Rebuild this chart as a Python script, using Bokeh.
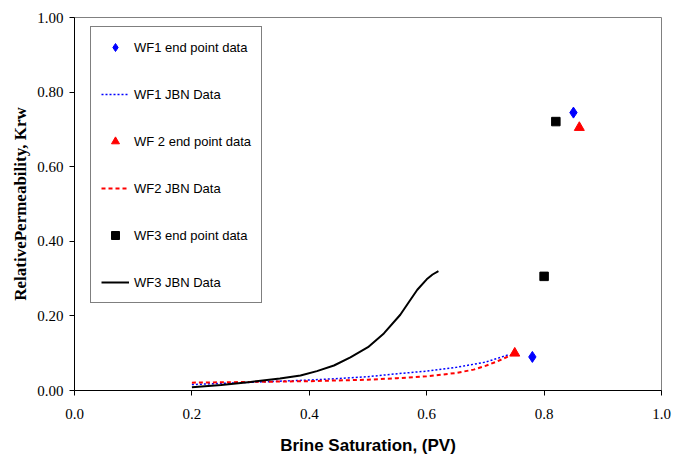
from bokeh.plotting import figure
from bokeh.models import Legend, LegendItem, FixedTicker, NumeralTickFormatter, Range1d
from bokeh.embed import file_html
from bokeh.resources import INLINE

# ---- data ----
wf1_end_sw = [0.85, 0.78]
wf1_end_kr = [0.745, 0.090]
wf2_end_sw = [0.86, 0.75]
wf2_end_kr = [0.705, 0.100]
wf3_end_sw = [0.82, 0.80]
wf3_end_kr = [0.721, 0.306]

wf1_jbn_sw = [0.20, 0.25, 0.30, 0.35, 0.40, 0.45, 0.50, 0.55, 0.60, 0.65, 0.70, 0.74]
wf1_jbn_kr = [0.016, 0.019, 0.022, 0.025, 0.028, 0.032, 0.037, 0.045, 0.052, 0.062, 0.076, 0.096]

wf2_jbn_sw = [0.20, 0.25, 0.30, 0.35, 0.40, 0.45, 0.50, 0.55, 0.60, 0.65, 0.68, 0.70, 0.72, 0.74, 0.75]
wf2_jbn_kr = [0.021, 0.022, 0.023, 0.024, 0.025, 0.027, 0.029, 0.033, 0.038, 0.047, 0.056, 0.066, 0.078, 0.092, 0.100]

wf3_jbn_sw = [0.20, 0.25, 0.30, 0.35, 0.385, 0.413, 0.442, 0.47, 0.50, 0.527,
              0.555, 0.57, 0.584, 0.60, 0.61, 0.62]
wf3_jbn_kr = [0.009, 0.015, 0.023, 0.032, 0.040, 0.052, 0.067, 0.089, 0.116, 0.153,
              0.203, 0.238, 0.270, 0.298, 0.311, 0.320]

x_ticks = [0.0, 0.2, 0.4, 0.6, 0.8, 1.0]
y_ticks = [0.0, 0.2, 0.4, 0.6, 0.8, 1.0]

x_title = "Brine Saturation, (PV)"
y_title = "RelativePermeability, Krw"

labels = ["WF1 end point data", "WF1 JBN Data", "WF 2 end point data",
          "WF2 JBN Data", "WF3 end point data", "WF3 JBN Data"]

# ---- figure ----
p = figure(frame_width=587, frame_height=373, output_backend="svg", toolbar_location=None,
           x_range=Range1d(0, 1), y_range=Range1d(0, 1),
           min_border_left=74, min_border_right=11, min_border_top=17, min_border_bottom=60)
p.background_fill_color = "white"
p.border_fill_color = "white"
p.outline_line_color = "#808080"
p.outline_line_width = 1
p.grid.visible = False

r1 = p.scatter(wf1_end_sw, wf1_end_kr, marker="diamond", size=11, color="#0000FF")
r2 = p.line(wf1_jbn_sw, wf1_jbn_kr, line_color="#0000FF", line_dash="2 2", line_width=1.5)
r3 = p.scatter(wf2_end_sw, wf2_end_kr, marker="triangle", size=10, color="#FF0000")
r4 = p.line(wf2_jbn_sw, wf2_jbn_kr, line_color="#FF0000", line_dash="4 3", line_width=2)
r5 = p.scatter(wf3_end_sw, wf3_end_kr, marker="square", size=8.5, color="#000000")
r6 = p.line(wf3_jbn_sw, wf3_jbn_kr, line_color="#000000", line_width=2)

for ax in (p.xaxis, p.yaxis):
    ax.axis_line_color = "black"
    ax.major_tick_line_color = "black"
    ax.major_tick_in = 0
    ax.major_tick_out = 5
    ax.minor_tick_line_color = None
    ax.major_label_text_font = "Liberation Serif"
    ax.major_label_text_font_size = "15px"
    ax.major_label_text_color = "black"
    ax.axis_label_text_color = "black"
    ax.axis_label_text_font_style = "bold"

p.xaxis.ticker = FixedTicker(ticks=x_ticks)
p.yaxis.ticker = FixedTicker(ticks=y_ticks)
p.xaxis.formatter = NumeralTickFormatter(format="0.0")
p.yaxis.formatter = NumeralTickFormatter(format="0.00")
p.xaxis.axis_label = x_title
p.yaxis.axis_label = y_title
p.xaxis.axis_label_text_font = "Liberation Sans"
p.xaxis.axis_label_text_font_size = "17px"
p.yaxis.axis_label_text_font = "Liberation Serif"
p.yaxis.axis_label_text_font_size = "17px"
p.xaxis.major_label_standoff = 13
p.yaxis.major_label_standoff = 6
p.xaxis.axis_label_standoff = 14
p.yaxis.axis_label_standoff = 4

legend = Legend(items=[LegendItem(label=l, renderers=[r]) for l, r in
                       zip(labels, [r1, r2, r3, r4, r5, r6])],
                location=(16, 87))
legend.border_line_color = "black"
legend.border_line_width = 1
legend.background_fill_color = "white"
legend.background_fill_alpha = 1
legend.label_text_font = "Liberation Sans"
legend.label_text_font_size = "13px"
legend.label_text_color = "black"
legend.padding = 10
legend.glyph_width = 28
legend.glyph_height = 20
legend.label_standoff = 5
legend.spacing = 27
legend.margin = 0
p.add_layout(legend, "center")

open("out.html", "w").write(file_html(p, INLINE))
